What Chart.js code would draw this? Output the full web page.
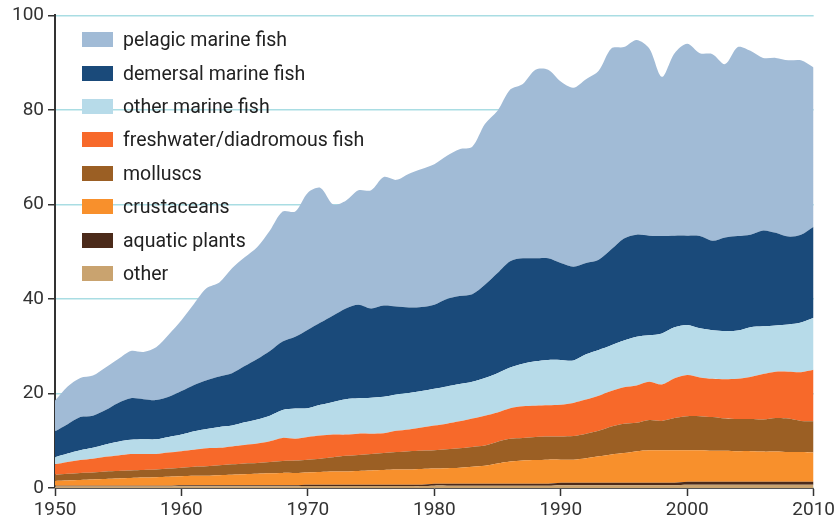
<!DOCTYPE html>
<html>
<head>
<meta charset="utf-8">
<script src="https://cdn.jsdelivr.net/npm/chart.js@4.4.1/dist/chart.umd.min.js"></script>
<style>
  html, body { margin: 0; padding: 0; background: #fff; }
  #wrap { position: relative; width: 838px; height: 525px; }
  #legend { position: absolute; left: 82px; top: 23px; font-family: Roboto, sans-serif; font-size: 19.5px; color: #222; }
  #legend .row { display: flex; align-items: center; height: 33.4px; }
  #legend .box { width: 31px; height: 15px; margin-right: 10px; }
</style>
</head>
<body>
<div id="wrap">
  <canvas id="chart"></canvas>
  <div id="legend"></div>
</div>
<script>
// ─────────────────────────────────────────────
//  Data (stack order: bottom → top)
// ─────────────────────────────────────────────
const years = [];
for (let y = 1950; y <= 2010; y++) years.push(y);

const other = [
  0.3,0.3,0.3,0.3,0.3,0.3,0.3,0.3,0.3,0.3,
  0.35,0.35,0.35,0.35,0.35,0.35,0.35,0.35,0.35,0.35,
  0.4,0.4,0.4,0.4,0.4,0.4,0.4,0.4,0.4,0.4,
  0.5,0.5,0.5,0.5,0.5,0.5,0.5,0.5,0.5,0.5,
  0.6,0.6,0.6,0.6,0.6,0.6,0.6,0.6,0.6,0.6,
  0.7,0.7,0.7,0.7,0.7,0.7,0.7,0.7,0.7,0.7,0.7
];
const aquaticPlants = [
  0.2,0.2,0.2,0.2,0.2,0.2,0.2,0.2,0.2,0.2,
  0.25,0.25,0.25,0.25,0.25,0.25,0.25,0.25,0.25,0.25,
  0.3,0.3,0.3,0.3,0.3,0.3,0.3,0.3,0.3,0.3,
  0.4,0.4,0.4,0.4,0.4,0.4,0.4,0.4,0.4,0.4,
  0.5,0.5,0.5,0.5,0.5,0.5,0.5,0.5,0.5,0.5,
  0.6,0.6,0.6,0.6,0.6,0.6,0.6,0.6,0.6,0.6,0.6
];
const crustaceans = [
  1.0,1.1,1.2,1.3,1.4,1.5,1.6,1.7,1.8,1.9,
  1.9,2.0,2.0,2.1,2.2,2.3,2.4,2.5,2.6,2.6,
  2.6,2.7,2.8,2.8,2.9,3.0,3.1,3.2,3.2,3.3,
  3.2,3.3,3.4,3.6,3.8,4.3,4.7,4.9,5.0,5.1,
  4.9,4.9,5.2,5.6,6.0,6.3,6.7,6.9,6.9,6.9,
  6.7,6.7,6.6,6.6,6.5,6.5,6.4,6.4,6.3,6.3,6.2
];
const molluscs = [
  1.3,1.4,1.5,1.5,1.6,1.6,1.6,1.6,1.6,1.7,
  1.8,1.9,2.0,2.1,2.2,2.3,2.3,2.4,2.5,2.6,
  2.7,2.8,3.0,3.3,3.4,3.5,3.6,3.7,3.9,3.9,
  3.9,4.0,4.1,4.2,4.3,4.6,4.8,4.8,4.9,4.9,
  4.9,5.0,5.2,5.4,5.9,6.2,6.0,6.4,6.2,6.8,
  7.2,7.2,7.1,6.8,6.8,6.8,6.8,7.1,7.1,6.6,6.6
];
const freshwater = [
  2.2,2.5,2.7,2.9,3.1,3.3,3.5,3.4,3.3,3.4,
  3.5,3.6,3.8,3.7,3.8,3.9,4.1,4.4,4.9,4.6,
  4.8,4.9,4.8,4.5,4.5,4.3,4.2,4.5,4.6,4.9,
  5.2,5.4,5.7,6.0,6.3,6.2,6.5,6.7,6.6,6.6,
  6.7,7.0,7.2,7.4,7.5,7.7,7.9,8.1,7.7,8.4,
  8.7,8.2,8.1,8.3,8.5,8.9,9.6,9.8,9.9,10.3,10.9
];
const otherMarine = [
  1.5,1.8,2.1,2.3,2.6,2.9,3.0,3.1,3.1,3.3,
  3.5,3.9,4.1,4.4,4.4,4.8,5.1,5.4,5.9,6.4,
  6.1,6.5,6.9,7.5,7.5,7.6,7.7,7.7,7.7,7.7,
  7.8,7.9,7.9,7.8,8.0,8.3,8.6,9.0,9.4,9.6,
  9.5,9.0,9.6,9.7,9.7,9.9,10.3,9.8,10.8,10.8,
  10.6,10.4,10.3,10.2,10.2,10.5,10.1,9.8,10.0,10.5,11.0
];
const demersal = [
  5.5,6.2,7.0,6.8,7.3,8.2,8.8,8.5,8.3,8.5,
  9.2,9.8,10.3,10.7,11.1,11.9,12.8,13.7,14.5,15.2,
  16.6,17.4,18.3,19.2,19.8,18.9,19.3,18.6,18.1,17.8,
  17.8,18.5,18.6,18.5,19.7,21.2,22.5,22.3,21.8,21.5,
  20.5,19.8,19.3,19.1,20.3,21.6,21.6,21.1,20.6,19.4,
  18.9,19.5,18.9,19.8,20.0,19.6,20.3,19.6,18.6,18.6,19.3
];
const pelagic = [
  6.5,8.0,8.3,8.5,9.0,9.3,10.0,10.0,11.2,13.2,
  15.0,17.2,19.5,19.9,22.2,23.0,23.7,25.5,27.5,26.5,
  29.0,28.5,23.5,22.8,24.2,25.0,27.2,26.8,28.3,29.2,
  29.7,30.3,31.1,31.2,34.0,34.3,36.3,36.9,39.9,39.9,
  38.4,37.9,38.9,40.0,42.5,40.5,41.2,39.6,33.7,38.6,
  40.6,38.7,39.5,36.7,40.0,38.9,36.5,37.0,37.3,36.9,33.7
];

const series = [
  { label: 'other',                      data: other,         color: '#c9a36f' },
  { label: 'aquatic plants',             data: aquaticPlants, color: '#4b2a1a' },
  { label: 'crustaceans',                data: crustaceans,   color: '#f8902c' },
  { label: 'molluscs',                   data: molluscs,      color: '#9b5f24' },
  { label: 'freshwater/diadromous fish', data: freshwater,    color: '#f7692a' },
  { label: 'other marine fish',          data: otherMarine,   color: '#b7dbe9' },
  { label: 'demersal marine fish',       data: demersal,      color: '#1a4a7a' },
  { label: 'pelagic marine fish',        data: pelagic,       color: '#a1bbd6' },
];

const yTicks = [0, 20, 40, 60, 80, 100];
const xTicks = [1950, 1960, 1970, 1980, 1990, 2000, 2010];

// ─────────────────────────────────────────────
//  Chart
// ─────────────────────────────────────────────
const tickFont = { family: 'Roboto, sans-serif', size: 19 };

const datasets = series.map((s, i) => ({
  label: s.label,
  data: s.data,
  backgroundColor: s.color,
  borderColor: s.color,
  borderWidth: 0,
  pointRadius: 0,
  fill: i === 0 ? 'origin' : '-1',
  tension: 0.3,
}));

new Chart(document.getElementById('chart'), {
  type: 'line',
  data: { labels: years, datasets },
  options: {
    responsive: true,
    maintainAspectRatio: false,
    animation: false,
    layout: { padding: { top: 15, right: 22, left: 0, bottom: 0 } },
    plugins: { legend: { display: false }, tooltip: { enabled: false } },
    scales: {
      x: {
        type: 'linear',
        min: 1950,
        max: 2010,
        afterFit: s => { s.height = 37; },
        afterBuildTicks: s => { s.ticks = xTicks.map(v => ({ value: v })); },
        border: { display: true, color: '#555', width: 1 },
        grid: { drawOnChartArea: false, drawTicks: true, tickLength: 8, tickColor: '#333', tickWidth: 1.5 },
        ticks: { color: '#333', font: tickFont, padding: 3, maxRotation: 0, callback: v => String(v) },
      },
      y: {
        stacked: true,
        min: 0,
        max: 100,
        afterFit: s => { s.width = 55; },
        afterBuildTicks: s => { s.ticks = yTicks.map(v => ({ value: v })); },
        border: { display: true, color: '#333', width: 2 },
        grid: { color: '#a9dde3', lineWidth: 1.5, tickColor: '#333', tickLength: 7, tickWidth: 1.5 },
        ticks: { color: '#333', font: tickFont, padding: 4 },
      },
    },
  },
});

// HTML legend, top of stack first
const legend = document.getElementById('legend');
series.slice().reverse().forEach(s => {
  const row = document.createElement('div');
  row.className = 'row';
  row.innerHTML = `<span class="box" style="background:${s.color}"></span><span>${s.label}</span>`;
  legend.appendChild(row);
});
</script>
</body>
</html>
